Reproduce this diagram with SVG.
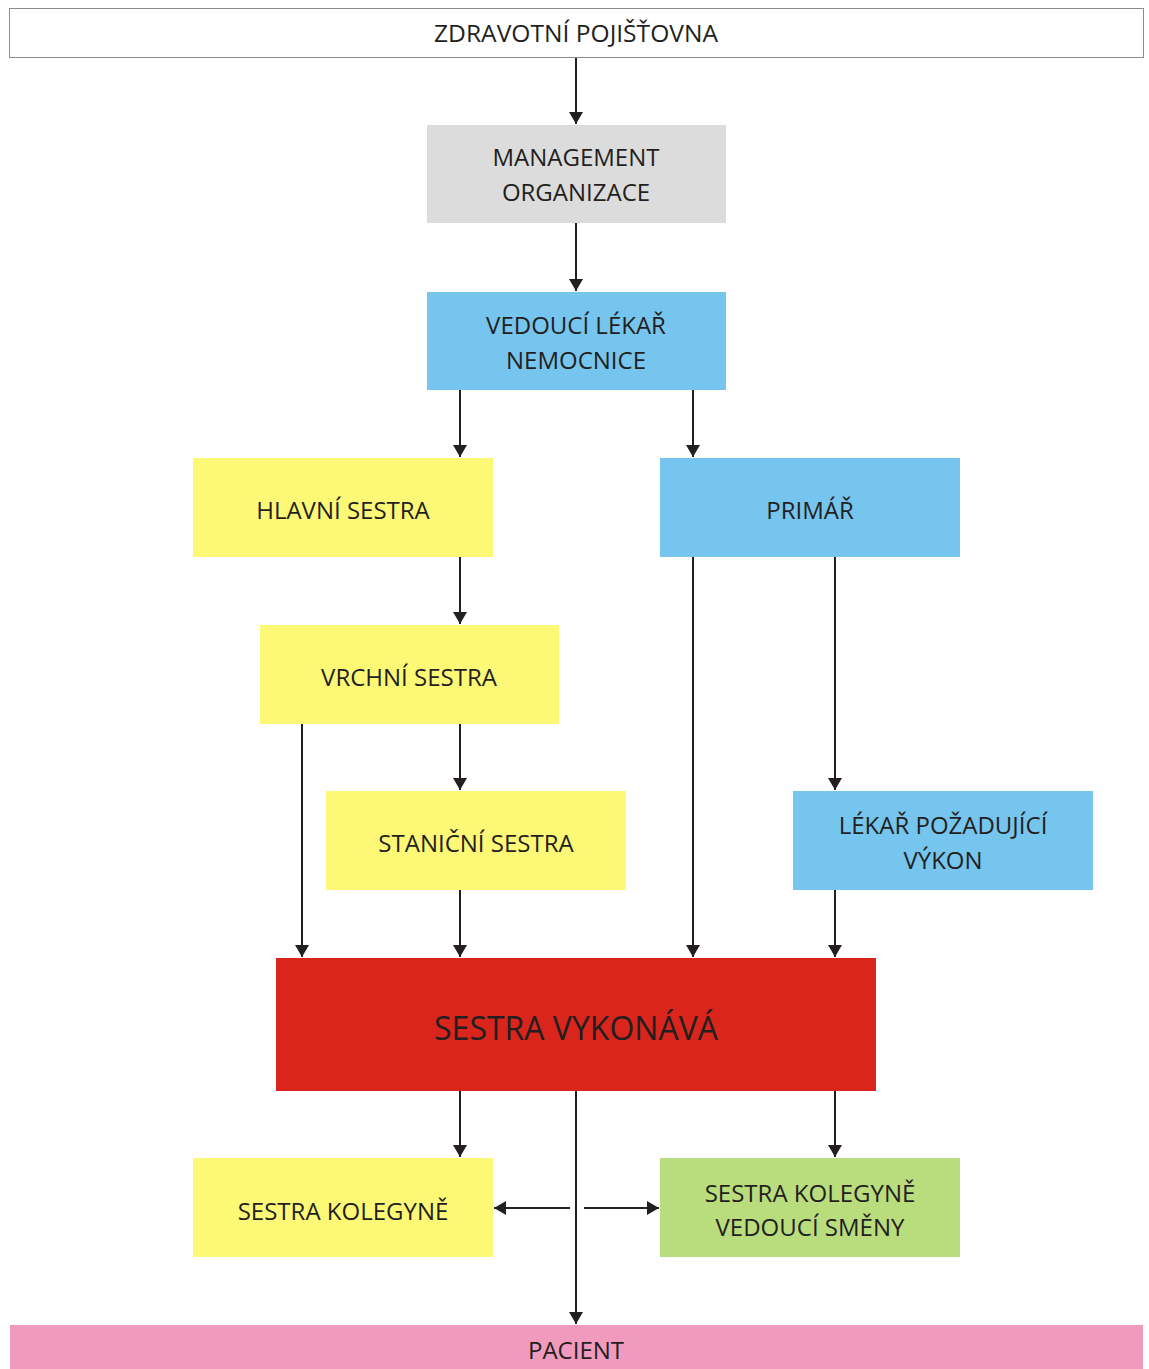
<svg xmlns="http://www.w3.org/2000/svg" width="1149" height="1369" viewBox="0 0 1149 1369">
<style>
.t{font-family:"Open Sans","Liberation Sans",sans-serif;font-size:24px;fill:#231f20;text-anchor:middle}
.big{font-size:32px}
.c{stroke:#231f20;stroke-width:2;fill:none}
.y{fill:#fdf976}.b{fill:#75c5ee}
</style>
<defs>
<marker id="ah" viewBox="0 0 12 14" refX="12" refY="7" markerWidth="12" markerHeight="14" markerUnits="userSpaceOnUse" orient="auto">
<path d="M0,0 L12,7 L0,14 Z" fill="#231f20"/>
</marker>
</defs>
<rect width="1149" height="1369" fill="#fff"/>
<g id="zdravotni-pojistovna">
<rect x="9.5" y="8.5" width="1134" height="49" fill="#fff" stroke="#8c8c8c" stroke-width="1"/>
<text class="t" x="576" y="42" textLength="284" lengthAdjust="spacingAndGlyphs">ZDRAVOTNÍ POJIŠŤOVNA</text>
</g>
<g id="management">
<rect x="427" y="125" width="299" height="98" fill="#dcdcdc"/>
<text class="t" x="576" y="166">MANAGEMENT</text>
<text class="t" x="576" y="201">ORGANIZACE</text>
</g>
<g id="vedouci-lekar">
<rect class="b" x="427" y="292" width="299" height="98"/>
<text class="t" x="576" y="334">VEDOUCÍ LÉKAŘ</text>
<text class="t" x="576" y="369">NEMOCNICE</text>
</g>
<g id="hlavni-sestra">
<rect class="y" x="193" y="458" width="300" height="99"/>
<text class="t" x="343" y="519">HLAVNÍ SESTRA</text>
</g>
<g id="primar">
<rect class="b" x="660" y="458" width="300" height="99"/>
<text class="t" x="810" y="519">PRIMÁŘ</text>
</g>
<g id="vrchni-sestra">
<rect class="y" x="260" y="625" width="299" height="99"/>
<text class="t" x="409" y="686">VRCHNÍ SESTRA</text>
</g>
<g id="stanicni-sestra">
<rect class="y" x="326" y="791" width="300" height="99"/>
<text class="t" x="476" y="852">STANIČNÍ SESTRA</text>
</g>
<g id="lekar-pozadujici">
<rect class="b" x="793" y="791" width="300" height="99"/>
<text class="t" x="943" y="834">LÉKAŘ POŽADUJÍCÍ</text>
<text class="t" x="943" y="869">VÝKON</text>
</g>
<g id="sestra-vykonava">
<rect x="276" y="958" width="600" height="133" fill="#d9251c"/>
<text class="t big" x="576" y="1040">SESTRA VYKONÁVÁ</text>
</g>
<g id="sestra-kolegyne">
<rect class="y" x="193" y="1158" width="300" height="99"/>
<text class="t" x="343" y="1220">SESTRA KOLEGYNĚ</text>
</g>
<g id="sestra-kolegyne-vedouci">
<rect x="660" y="1158" width="300" height="99" fill="#b9dd7c"/>
<text class="t" x="810" y="1202">SESTRA KOLEGYNĚ</text>
<text class="t" x="810" y="1236">VEDOUCÍ SMĚNY</text>
</g>
<g id="pacient">
<rect x="10" y="1325" width="1133" height="44" fill="#f09bbd"/>
<text class="t" x="576" y="1359">PACIENT</text>
</g>
<g id="connectors" class="c" marker-end="url(#ah)">
<line x1="576" y1="58" x2="576" y2="124"/>
<line x1="576" y1="223" x2="576" y2="291"/>
<line x1="460" y1="390" x2="460" y2="457"/>
<line x1="693" y1="390" x2="693" y2="457"/>
<line x1="460" y1="557" x2="460" y2="624"/>
<line x1="460" y1="724" x2="460" y2="790"/>
<line x1="302" y1="724" x2="302" y2="957"/>
<line x1="693" y1="557" x2="693" y2="957"/>
<line x1="835" y1="557" x2="835" y2="790"/>
<line x1="460" y1="890" x2="460" y2="957"/>
<line x1="835" y1="890" x2="835" y2="957"/>
<line x1="460" y1="1091" x2="460" y2="1157"/>
<line x1="835" y1="1091" x2="835" y2="1157"/>
<line x1="576" y1="1091" x2="576" y2="1324"/>
<line x1="570" y1="1208" x2="494" y2="1208"/>
<line x1="584" y1="1208" x2="659" y2="1208"/>
</g>
</svg>
